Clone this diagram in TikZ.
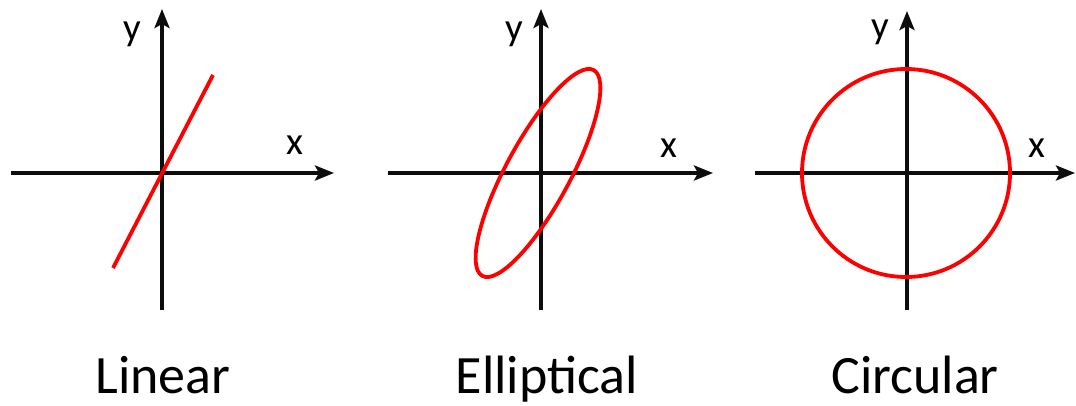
\documentclass[tikz,border=0pt]{standalone}
\usepackage{fontspec}
\setmainfont{Carlito}
\usetikzlibrary{arrows.meta}
\begin{document}
\begin{tikzpicture}[x=1pt,y=-1pt,
  axis/.style={line width=3.6pt, black!95, -{Stealth[length=19pt,width=15pt,inset=4pt]}},
  curve/.style={line width=3.8pt, red},
  axlabel/.style={font=\fontsize{39}{40}\selectfont, anchor=base, inner sep=0pt},
  title/.style={font=\fontsize{54}{60}\selectfont, anchor=base, inner sep=0pt, text depth=0pt}]
\useasboundingbox (0,0) rectangle (1076,405);
% Panel 1
\coordinate (xa1) at (11,173);  \coordinate (xb1) at (334,173);
\coordinate (ya1) at (162,310); \coordinate (yb1) at (162,9);
\draw[axis] (xa1) -- (xb1);
\draw[axis] (ya1) -- (yb1);
\coordinate (la) at (113,268); \coordinate (lb) at (213,75);
\draw[curve] (la) -- (lb);
\node[axlabel] (ylab1) at (132,40) {y};
\node[axlabel] (xlab1) at (295,154) {x};
\node[title] (t1) at (163,393) {Linear};
% Panel 2
\coordinate (xa2) at (388,173);  \coordinate (xb2) at (713,173);
\coordinate (ya2) at (541,310); \coordinate (yb2) at (541,9);
\draw[axis] (xa2) -- (xb2);
\draw[axis] (ya2) -- (yb2);
\coordinate (ec) at (538,173);
\draw[curve, shift={(ec)}, rotate=61.6] (0,0) ellipse [x radius=117, y radius=32];
\node[axlabel] (ylab2) at (514,40) {y};
\node[axlabel] (xlab2) at (669,157) {x};
\node[title] (t2) at (547,393) {Elliptical};
% Panel 3
\coordinate (xa3) at (755,173);  \coordinate (xb3) at (1075,173);
\coordinate (ya3) at (907,310); \coordinate (yb3) at (907,11);
\draw[axis] (xa3) -- (xb3);
\draw[axis] (ya3) -- (yb3);
\coordinate (cc) at (906,173);
\draw[curve] (cc) circle [radius=104];
\node[axlabel] (ylab3) at (880,38) {y};
\node[axlabel] (xlab3) at (1037,157) {x};
\node[title] (t3) at (915,393) {Circular};
\end{tikzpicture}
\end{document}
